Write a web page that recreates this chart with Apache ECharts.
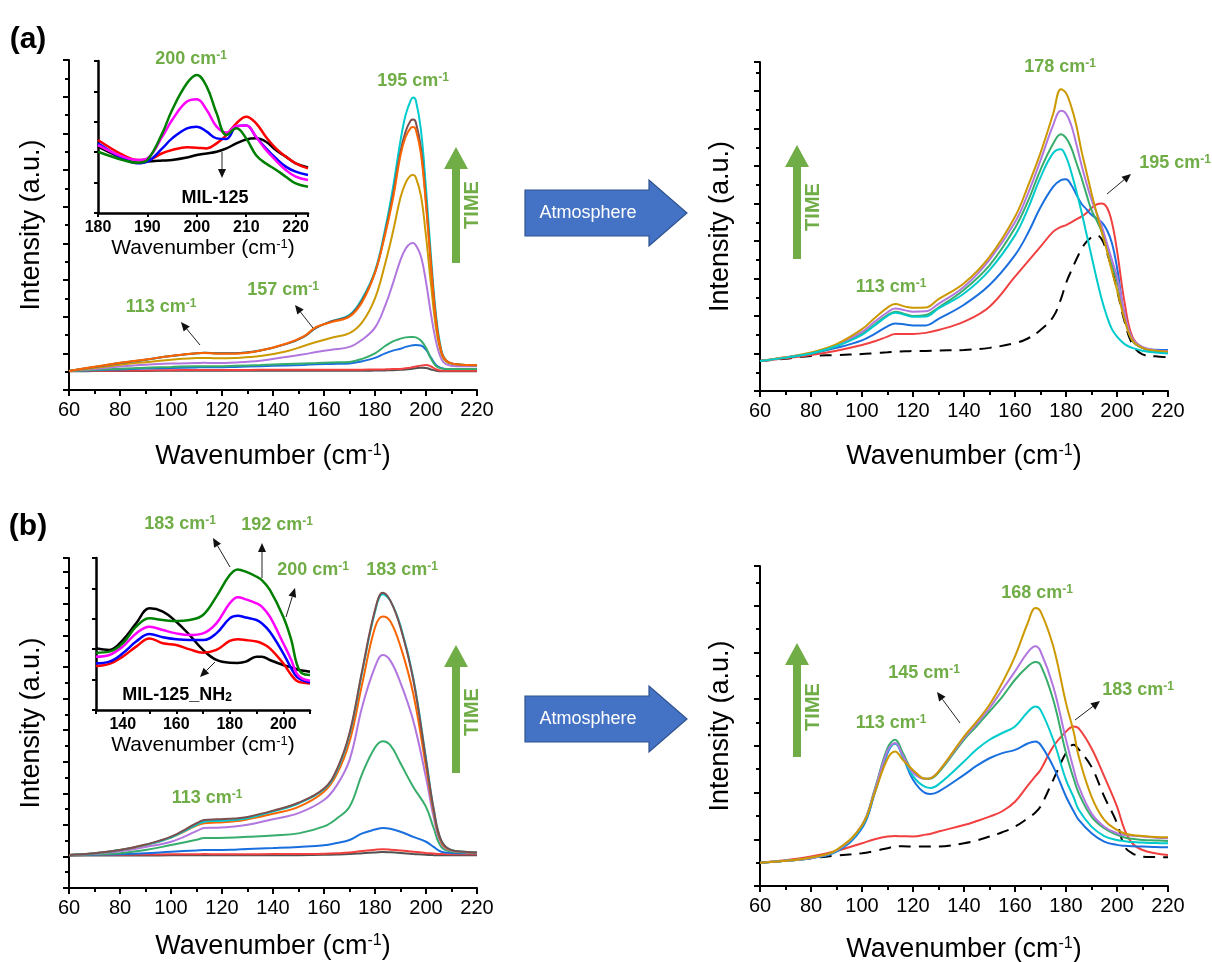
<!DOCTYPE html>
<html><head><meta charset="utf-8">
<script src="https://cdn.jsdelivr.net/npm/echarts@6/dist/echarts.min.js"></script>
<style>html,body{margin:0;padding:0;background:#fff}#c{width:1212px;height:962px}</style>
</head><body><div id="c"></div>
<script>
// ---------- DATA ----------
// (a) main, MIL-125 in time
const X_A_MAIN = [60,70,80,90,100,110,113,118,125,135,145,152,157,163,170,175,180,184,187,190,192,194,195,196,198,200,202,204,206,208,212,220];
const A_gray   = [1.02,1.03,1.04,1.04,1.05,1.05,1.05,1.05,1.05,1.05,1.05,1.05,1.05,1.05,1.05,1.05,1.06,1.07,1.08,1.1,1.12,1.15,1.17,1.19,1.21,1.2,1.12,1.05,1.02,1.02,1.02,1.02];
const A_red    = [1.04,1.05,1.06,1.07,1.08,1.09,1.09,1.09,1.09,1.1,1.1,1.1,1.1,1.1,1.1,1.11,1.12,1.13,1.14,1.15,1.18,1.22,1.25,1.28,1.33,1.36,1.28,1.12,1.05,1.05,1.05,1.05];
const A_blue   = [1.04,1.08,1.12,1.17,1.2,1.23,1.24,1.24,1.26,1.3,1.34,1.37,1.4,1.42,1.45,1.57,1.75,2.0,2.15,2.25,2.35,2.42,2.44,2.45,2.43,2.2,1.75,1.35,1.2,1.15,1.15,1.15];
const A_green  = [1.04,1.1,1.16,1.22,1.26,1.3,1.3,1.3,1.32,1.36,1.42,1.45,1.47,1.5,1.53,1.7,2.0,2.4,2.65,2.8,2.87,2.89,2.89,2.87,2.7,2.3,1.7,1.3,1.18,1.15,1.15,1.15];
const A_purple = [1.04,1.15,1.28,1.38,1.44,1.47,1.48,1.47,1.5,1.6,1.8,1.95,2.07,2.2,2.35,2.75,3.4,4.6,5.8,7.1,7.7,8.0,8.02,7.9,7.3,5.9,4.1,2.6,1.7,1.4,1.3,1.3];
const A_gold   = [1.04,1.2,1.38,1.52,1.65,1.74,1.75,1.73,1.75,1.85,2.1,2.4,2.62,2.85,3.1,3.7,5.0,6.9,8.6,10.5,11.3,11.7,11.73,11.6,10.6,8.4,5.7,3.3,2.0,1.55,1.4,1.35];
const A_cyan   = [1.04,1.25,1.47,1.65,1.85,2.0,2.03,2.0,2.0,2.15,2.5,2.9,3.4,3.75,4.1,5.0,6.5,8.8,11.0,13.6,15.0,15.8,15.95,15.8,14.2,11.0,7.2,4.0,2.2,1.6,1.4,1.35];
const A_brown  = [1.04,1.25,1.47,1.65,1.85,2.0,2.03,2.0,2.0,2.15,2.5,2.9,3.4,3.75,4.05,4.9,6.4,8.6,10.6,13.0,14.1,14.7,14.75,14.6,13.2,10.3,6.8,3.8,2.1,1.6,1.4,1.35];
const A_orange = [1.04,1.27,1.49,1.66,1.86,2.0,2.02,1.98,1.98,2.15,2.52,2.92,3.44,3.7,4.0,4.8,6.4,8.5,10.4,12.8,13.8,14.3,14.35,14.2,12.9,10.1,6.7,3.7,2.1,1.6,1.4,1.35];

// (a) atmosphere
const X_A_ATM = [60,70,80,90,100,105,110,113,117,120,125,130,140,150,160,165,170,175,178,180,182,184,186,188,190,192,194,196,198,200,203,206,210,215,220];
const AA_dash   = [1.6,1.72,1.87,1.92,1.97,2.02,2.07,2.1,2.12,2.13,2.14,2.16,2.19,2.3,2.56,2.8,3.25,3.96,4.9,5.75,6.4,7.0,7.55,7.95,8.2,8.3,8.1,7.4,6.5,5.4,3.7,2.5,1.95,1.85,1.8];
const AA_red    = [1.6,1.75,1.92,2.15,2.45,2.65,2.9,3.04,3.04,3.04,3.1,3.25,3.7,4.5,6.1,6.9,7.7,8.5,8.75,8.85,9.0,9.15,9.3,9.5,9.76,9.95,10.0,9.8,9.0,7.5,4.7,2.9,2.3,2.15,2.1];
const AA_blue   = [1.6,1.78,2.0,2.3,2.7,3.05,3.45,3.6,3.55,3.5,3.5,3.85,4.6,5.65,7.25,8.4,9.8,10.9,11.25,11.3,11.0,10.5,10.0,9.7,9.4,9.2,9.0,8.6,7.9,6.6,3.96,2.7,2.3,2.2,2.19];
const AA_green  = [1.6,1.78,2.0,2.4,3.05,3.55,4.05,4.23,4.1,4.0,4.05,4.45,5.4,6.7,8.7,10.1,11.8,13.2,13.7,13.5,13.0,12.2,11.4,10.5,9.65,9.1,8.5,7.6,6.7,5.9,3.96,2.7,2.3,2.15,2.13];
const AA_purple = [1.6,1.8,2.03,2.45,3.15,3.7,4.2,4.4,4.3,4.23,4.25,4.65,5.56,7.0,9.0,10.5,12.3,14.2,14.95,14.8,14.2,13.2,12.1,11.1,10.2,9.5,8.8,7.9,7.0,6.1,4.15,2.8,2.35,2.18,2.13];
const AA_gold   = [1.6,1.8,2.05,2.5,3.3,3.9,4.45,4.64,4.5,4.44,4.45,4.9,5.75,7.16,9.3,10.9,12.7,14.8,16.1,15.9,15.2,14.2,12.85,11.7,10.55,9.5,8.5,7.5,6.4,5.4,3.8,2.7,2.3,2.15,2.1];
const AA_cyan   = [1.6,1.78,2.0,2.4,3.0,3.5,4.0,4.18,4.05,3.96,3.97,4.4,5.2,6.45,8.3,9.7,11.4,12.7,12.9,12.5,11.7,10.7,9.6,8.4,7.2,6.0,4.9,4.0,3.3,2.9,2.5,2.3,2.15,2.05,2.0];

// (b) main, MIL-125_NH2 in time
const X_B_MAIN = [60,70,80,90,100,110,113,118,125,130,140,150,160,165,170,175,180,183,186,190,195,200,203,206,210,215,220];
const B_gray   = [2.05,2.06,2.06,2.06,2.07,2.07,2.07,2.07,2.07,2.07,2.07,2.08,2.1,2.12,2.15,2.2,2.25,2.28,2.26,2.22,2.16,2.1,2.08,2.07,2.07,2.07,2.07];
const B_red    = [2.09,2.1,2.11,2.12,2.13,2.14,2.15,2.14,2.14,2.14,2.15,2.15,2.17,2.2,2.25,2.35,2.42,2.45,2.43,2.38,2.3,2.22,2.18,2.15,2.14,2.14,2.14];
const B_blue   = [2.09,2.11,2.14,2.2,2.3,2.38,2.4,2.4,2.43,2.47,2.53,2.6,2.7,2.85,3.04,3.46,3.7,3.8,3.75,3.56,3.24,2.93,2.6,2.3,2.22,2.2,2.2];
const B_green  = [2.09,2.13,2.2,2.4,2.72,3.05,3.16,3.17,3.2,3.24,3.33,3.46,3.9,4.4,5.14,7.25,8.9,9.3,9.05,7.9,6.4,5.14,3.8,2.6,2.3,2.25,2.22];
const B_purple = [2.09,2.17,2.33,2.6,2.93,3.6,3.8,3.82,3.9,4.0,4.35,4.74,5.57,6.5,8.1,11.5,14.0,14.75,14.4,13.0,10.6,7.0,4.5,2.8,2.35,2.26,2.23];
const B_orange = [2.09,2.2,2.4,2.72,3.2,3.95,4.1,4.15,4.22,4.35,4.7,5.14,6.1,7.2,9.26,12.95,16.5,17.2,16.9,15.3,12.3,7.67,4.8,2.9,2.38,2.28,2.24];
const B_cyan   = [2.09,2.2,2.4,2.73,3.2,4.0,4.2,4.25,4.3,4.42,4.85,5.35,6.25,7.4,9.7,13.7,17.5,18.6,18.2,16.6,13.3,8.2,5.0,3.0,2.4,2.3,2.25];
const B_brown  = [2.09,2.2,2.4,2.75,3.25,4.1,4.3,4.35,4.4,4.5,4.9,5.4,6.3,7.5,9.8,13.8,17.6,18.7,18.2,16.5,13.2,8.1,5.0,3.0,2.4,2.3,2.25];

// (b) atmosphere
const X_B_ATM = [60,70,80,90,100,105,110,113,116,120,125,127,130,140,145,150,155,160,165,168,170,175,180,183,185,190,195,200,203,206,210,215,220];
const BA_dash   = [1.0,1.08,1.19,1.3,1.4,1.5,1.62,1.69,1.7,1.69,1.69,1.69,1.69,1.83,1.95,2.12,2.3,2.54,2.9,3.15,3.4,4.545,5.69,6.05,5.85,5.1,3.83,2.69,1.69,1.4,1.26,1.24,1.23];
const BA_red    = [1.0,1.1,1.26,1.5,1.83,2.0,2.12,2.14,2.13,2.12,2.2,2.24,2.33,2.61,2.78,2.97,3.2,3.61,4.3,4.7,4.97,5.97,6.61,6.83,6.75,5.9,4.69,3.4,2.4,1.83,1.54,1.4,1.33];
const BA_blue   = [1.0,1.08,1.19,1.47,2.47,3.97,5.69,6.1,5.54,4.545,3.97,3.94,4.04,4.76,5.15,5.47,5.69,5.83,6.1,6.19,6.05,5.11,3.83,3.2,2.83,2.26,1.9,1.76,1.72,1.7,1.69,1.67,1.66];
const BA_cyan   = [1.0,1.08,1.2,1.5,2.55,4.05,5.75,6.1,5.55,4.7,4.23,4.2,4.35,5.33,5.85,6.26,6.55,6.83,7.45,7.69,7.54,6.26,4.545,3.8,3.26,2.54,2.14,1.97,1.92,1.88,1.86,1.84,1.83];
const BA_green  = [1.0,1.08,1.2,1.52,2.6,4.15,5.9,6.26,5.7,4.9,4.59,4.6,4.85,6.26,6.85,7.47,8.1,8.83,9.4,9.59,9.47,7.97,5.69,4.6,3.97,2.97,2.47,2.19,2.08,2.02,1.97,1.95,1.93];
const BA_purple = [1.0,1.08,1.2,1.52,2.6,4.1,5.8,6.12,5.6,4.85,4.59,4.62,4.9,6.33,6.95,7.61,8.4,9.19,10.0,10.26,10.05,8.54,6.26,5.0,4.26,3.11,2.54,2.26,2.18,2.15,2.12,2.07,2.04];
const BA_gold   = [1.0,1.08,1.22,1.55,2.6,4.0,5.45,5.76,5.4,4.97,4.59,4.62,4.9,6.4,7.05,7.76,8.7,9.83,11.26,11.9,11.76,10.26,7.83,6.6,5.54,3.83,2.83,2.4,2.25,2.18,2.14,2.1,2.09];

// inset (a) MIL-125
const X_A_IN = [180,185,188,190,193,195,198,200,202,204,206,208,210,212,214,216,218,220,222.5];
const AI_green   = [4.03,3.49,3.3,3.49,5.24,6.78,8.53,9.08,8.31,6.56,5.13,5.57,4.9,3.8,3.25,2.85,2.39,1.95,1.73];
const AI_magenta = [4.47,3.71,3.49,3.6,5.02,6.12,7.33,7.48,6.78,5.68,5.29,5.72,5.75,5.0,4.15,3.45,2.83,2.39,2.17];
const AI_blue    = [4.58,3.6,3.27,3.38,4.25,4.91,5.57,5.68,5.35,4.91,4.87,5.68,5.75,5.0,4.25,3.6,3.05,2.72,2.5];
const AI_red     = [4.8,3.82,3.49,3.49,3.93,4.14,4.32,4.3,4.25,4.58,5.13,5.9,6.34,5.9,5.0,4.25,3.71,3.27,2.94];
const AI_black   = [4.36,3.6,3.3,3.38,3.45,3.49,3.65,3.82,3.92,4.03,4.25,4.58,4.84,4.91,4.69,4.14,3.71,3.27,3.0];

// inset (b) MIL-125_NH2
const X_B_IN = [130,135,140,145,150,155,160,165,170,175,180,183,186,190,192,195,200,203,205,207,210];
const BI_black   = [4.06,3.95,4.6,5.7,6.69,6.47,5.81,4.93,3.95,3.29,3.11,3.1,3.18,3.51,3.51,3.29,2.96,2.8,2.68,2.6,2.52];
const BI_green   = [3.77,3.84,4.39,5.48,6.03,5.92,5.85,5.92,6.25,7.46,8.88,9.25,9.1,8.77,8.55,7.9,6.14,4.61,3.07,2.41,2.3];
const BI_magenta = [3.51,3.62,4.17,5.04,5.48,5.26,5.04,4.93,5.04,5.7,7.02,7.41,7.28,7.02,6.8,6.14,4.39,3.29,2.41,2.08,1.93];
const BI_blue    = [3.07,3.18,3.73,4.5,5.0,4.78,4.65,4.6,4.6,5.04,6.03,6.2,6.09,5.92,5.7,5.15,3.73,2.74,2.19,1.97,1.8];
const BI_red     = [2.89,3.03,3.51,4.17,4.71,4.39,4.28,3.99,3.77,3.95,4.54,4.65,4.6,4.5,4.39,4.06,3.07,2.3,1.93,1.8,1.75];

const MAIN_TICKS = [60,80,100,120,140,160,180,200,220];

// ---------- STYLE / BUILD ----------
const FONT = '"Liberation Sans", Arial, Helvetica, sans-serif';
const GREEN = '#70AD47';
const C = {gray:'#515151', red:'#F14040', blue:'#1A6FDF', green:'#37AD6B', purple:'#B177DE',
           gold:'#CC9900', cyan:'#00CBCC', brown:'#7D4E4E', orange:'#FB6501'};
const CI = {green:'#008000', magenta:'#FF00FF', blue:'#0000FF', red:'#FF0000', black:'#000000'};

const wnName = (fs, ss) => ({
  name: '{n|Wavenumber (cm}{s|-1}{n|)}',
  nameTextStyle: { rich: {
    n: {fontSize: fs, fontFamily: FONT, color: '#000'},
    s: {fontSize: ss, fontFamily: FONT, color: '#000', verticalAlign: 'top'} } }
});

function mainX(g, gap) {
  return Object.assign({
    type: 'value', gridIndex: g, min: 60, max: 220, interval: 20,
    axisLine: {show: true, onZero: false, lineStyle: {color: '#000', width: 2}},
    axisTick: {show: true, length: 6, lineStyle: {color: '#000', width: 2}},
    minorTick: {show: true, splitNumber: 2, length: 4, lineStyle: {color: '#000', width: 2}},
    axisLabel: {fontSize: 20, color: '#000', fontFamily: FONT, margin: 10,
      formatter: v => MAIN_TICKS.includes(v) ? String(v) : ''},
    splitLine: {show: false}, minorSplitLine: {show: false},
    nameLocation: 'middle', nameGap: gap
  }, wnName(27, 16));
}
function mainY(g, max, gap) {
  return {
    type: 'value', gridIndex: g, min: 0, max: max, interval: 2,
    axisLine: {show: true, onZero: false, lineStyle: {color: '#000', width: 2}},
    axisTick: {show: true, length: 6, lineStyle: {color: '#000', width: 2}},
    minorTick: {show: true, splitNumber: 2, length: 4, lineStyle: {color: '#000', width: 2}},
    axisLabel: {show: false}, splitLine: {show: false}, minorSplitLine: {show: false},
    name: 'Intensity (a.u.)', nameLocation: 'middle', nameGap: gap,
    nameTextStyle: {fontSize: 27, fontFamily: FONT, color: '#000'}
  };
}
function insetX(g, min, max, step, showFn) {
  return Object.assign({
    type: 'value', gridIndex: g, min: min, max: max, interval: step,
    axisLine: {show: true, onZero: false, lineStyle: {color: '#000', width: 2.5}},
    axisTick: {show: true, length: 4, lineStyle: {color: '#000', width: 2}},
    axisLabel: {fontSize: 16, fontWeight: 'bold', color: '#000', fontFamily: FONT, margin: 7,
      formatter: v => showFn(v) ? String(v) : ''},
    splitLine: {show: false},
    nameLocation: 'middle', nameGap: 25
  }, wnName(21, 13));
}
function insetY(g) {
  return {
    type: 'value', gridIndex: g, min: 0, max: 10, interval: 2,
    axisLine: {show: true, onZero: false, lineStyle: {color: '#000', width: 2.5}},
    axisTick: {show: true, length: 4, lineStyle: {color: '#000', width: 2}},
    axisLabel: {show: false}, splitLine: {show: false}
  };
}
function ser(idx, xs, ys, color, w, extra) {
  return Object.assign({
    type: 'line', xAxisIndex: idx, yAxisIndex: idx,
    data: xs.map((x, i) => [x, ys[i]]),
    smooth: 0.4, showSymbol: false, symbol: 'none', silent: true,
    lineStyle: {color: color, width: w}, itemStyle: {color: color},
    z: idx >= 4 ? 5 : 2
  }, extra || {});
}

// annotation helpers
function glabel(txt, x, y, fs) {
  fs = fs || 18;
  return {type: 'text', x: x, y: y, silent: true, z: 20,
    style: {text: '{a|' + txt + '}{b|-1}', align: 'center', verticalAlign: 'middle',
      rich: {a: {fontSize: fs, fontWeight: 'bold', fontFamily: FONT, fill: GREEN},
             b: {fontSize: Math.round(fs * 0.65), fontWeight: 'bold', fontFamily: FONT, fill: GREEN, verticalAlign: 'top'}}}};
}
function blackArrow(x1, y1, x2, y2) {
  const dx = x2 - x1, dy = y2 - y1, L = Math.hypot(dx, dy), ux = dx / L, uy = dy / L;
  const hl = 9, hw = 4;
  const bx = x2 - ux * hl, by = y2 - uy * hl;
  return [
    {type: 'line', silent: true, z: 20, shape: {x1: x1, y1: y1, x2: bx, y2: by}, style: {stroke: '#222', lineWidth: 1}},
    {type: 'polygon', silent: true, z: 20, shape: {points: [[x2, y2], [bx - uy * hw, by + ux * hw], [bx + uy * hw, by - ux * hw]]}, style: {fill: '#111'}}
  ];
}
function timeArrow(cx, top, bottom, tx, ty) {
  return [
    {type: 'polygon', silent: true, z: 20, shape: {points: [[cx, top], [cx + 12, top + 22], [cx + 4, top + 22], [cx + 4, bottom], [cx - 4, bottom], [cx - 4, top + 22], [cx - 12, top + 22]]}, style: {fill: GREEN}},
    {type: 'text', silent: true, z: 20, x: tx, y: ty, rotation: Math.PI / 2,
      style: {text: 'TIME', fontSize: 20, fontWeight: 'bold', fontFamily: FONT, fill: GREEN, align: 'center', verticalAlign: 'middle'}}
  ];
}
function atmArrow(cy) {
  return [
    {type: 'polygon', silent: true, z: 20, shape: {points: [[525, cy - 23], [649, cy - 23], [649, cy - 33], [687, cy], [649, cy + 33], [649, cy + 23], [525, cy + 23]]},
      style: {fill: '#4472C4', stroke: '#2F528F', lineWidth: 1.2}},
    {type: 'text', silent: true, z: 21, x: 588, y: cy,
      style: {text: 'Atmosphere', fontSize: 18, fontFamily: FONT, fill: '#fff', align: 'center', verticalAlign: 'middle'}}
  ];
}
function plainText(txt, x, y, fs, bold) {
  return {type: 'text', silent: true, z: 20, x: x, y: y,
    style: {text: txt, fontSize: fs, fontWeight: bold ? 'bold' : 'normal', fontFamily: FONT, fill: '#000', align: 'center', verticalAlign: 'middle'}};
}

const grids = [
  {left: 69, top: 60, width: 408, height: 330},
  {left: 760, top: 62, width: 408, height: 329},
  {left: 69, top: 558, width: 408, height: 330},
  {left: 760, top: 566, width: 408, height: 320},
  {left: 98, top: 61, width: 210, height: 152},
  {left: 96, top: 558, width: 214, height: 152}
].map(g => Object.assign({containLabel: false, outerBoundsMode: 'none', show: false}, g));

const xAxes = [
  mainX(0, 53), mainX(1, 52), mainX(2, 45), mainX(3, 50),
  insetX(4, 180, 222.5, 10, v => v % 10 === 0),
  insetX(5, 130, 210, 10, v => v % 20 === 0 && v >= 140 && v <= 200)
];
const yAxes = [
  mainY(0, 18, 24), mainY(1, 17.55, 26), mainY(2, 20.9, 24), mainY(3, 13.7, 26),
  insetY(4), insetY(5)
];

const DASH = {lineStyle: {color: '#000', width: 2, type: [12, 8]}};
const series = [
  ser(0, X_A_MAIN, A_gray, C.gray, 2), ser(0, X_A_MAIN, A_red, C.red, 2),
  ser(0, X_A_MAIN, A_blue, C.blue, 2), ser(0, X_A_MAIN, A_green, C.green, 2),
  ser(0, X_A_MAIN, A_purple, C.purple, 2), ser(0, X_A_MAIN, A_gold, C.gold, 2),
  ser(0, X_A_MAIN, A_cyan, C.cyan, 2), ser(0, X_A_MAIN, A_brown, C.brown, 2),
  ser(0, X_A_MAIN, A_orange, C.orange, 2),

  ser(1, X_A_ATM, AA_dash, '#000', 2, DASH),
  ser(1, X_A_ATM, AA_red, C.red, 2), ser(1, X_A_ATM, AA_blue, C.blue, 2),
  ser(1, X_A_ATM, AA_green, C.green, 2), ser(1, X_A_ATM, AA_purple, C.purple, 2),
  ser(1, X_A_ATM, AA_gold, C.gold, 2), ser(1, X_A_ATM, AA_cyan, C.cyan, 2),

  ser(2, X_B_MAIN, B_gray, C.gray, 2), ser(2, X_B_MAIN, B_red, C.red, 2),
  ser(2, X_B_MAIN, B_blue, C.blue, 2), ser(2, X_B_MAIN, B_green, C.green, 2),
  ser(2, X_B_MAIN, B_purple, C.purple, 2), ser(2, X_B_MAIN, B_orange, C.orange, 2),
  ser(2, X_B_MAIN, B_cyan, C.cyan, 2), ser(2, X_B_MAIN, B_brown, C.brown, 2),

  ser(3, X_B_ATM, BA_dash, '#000', 2, DASH),
  ser(3, X_B_ATM, BA_red, C.red, 2), ser(3, X_B_ATM, BA_blue, C.blue, 2),
  ser(3, X_B_ATM, BA_cyan, C.cyan, 2), ser(3, X_B_ATM, BA_green, C.green, 2),
  ser(3, X_B_ATM, BA_purple, C.purple, 2), ser(3, X_B_ATM, BA_gold, C.gold, 2),

  ser(4, X_A_IN, AI_black, CI.black, 2.5), ser(4, X_A_IN, AI_red, CI.red, 2.5),
  ser(4, X_A_IN, AI_blue, CI.blue, 2.5), ser(4, X_A_IN, AI_magenta, CI.magenta, 2.5),
  ser(4, X_A_IN, AI_green, CI.green, 2.5),

  ser(5, X_B_IN, BI_black, CI.black, 2.5), ser(5, X_B_IN, BI_red, CI.red, 2.5),
  ser(5, X_B_IN, BI_blue, CI.blue, 2.5), ser(5, X_B_IN, BI_magenta, CI.magenta, 2.5),
  ser(5, X_B_IN, BI_green, CI.green, 2.5)
];

const graphic = [].concat(
  [plainText('(a)', 28, 40, 30, true), plainText('(b)', 28, 527, 30, true)],
  // panel (a)
  [glabel('200 cm', 191, 59), glabel('195 cm', 413, 81), glabel('113 cm', 161, 307), glabel('157 cm', 283, 290)],
  blackArrow(222, 152, 222, 178), blackArrow(200, 345, 181, 322), blackArrow(313, 328, 295, 305),
  [plainText('MIL-125', 215, 198, 18, true)],
  timeArrow(456, 147, 263, 472, 205),
  atmArrow(213),
  [glabel('178 cm', 1060, 67), glabel('113 cm', 891, 287), glabel('195 cm', 1175, 163)],
  blackArrow(1107, 194, 1131, 174),
  timeArrow(797, 145, 259, 813, 207),
  // panel (b)
  [glabel('183 cm', 180, 524), glabel('192 cm', 277, 525), glabel('200 cm', 313, 570), glabel('183 cm', 402, 570), glabel('113 cm', 207, 798)],
  blackArrow(230, 567, 213, 538), blackArrow(262, 578, 262, 543), blackArrow(286, 617, 295, 588), blackArrow(215, 662, 200, 677),
  [{type: 'text', silent: true, z: 20, x: 177, y: 695,
    style: {text: '{a|MIL-125_NH}{b|2}', align: 'center', verticalAlign: 'middle',
      rich: {a: {fontSize: 18, fontWeight: 'bold', fontFamily: FONT, fill: '#000'},
             b: {fontSize: 12, fontWeight: 'bold', fontFamily: FONT, fill: '#000', verticalAlign: 'bottom'}}}}],
  timeArrow(456, 645, 773, 472, 712),
  atmArrow(719),
  [glabel('168 cm', 1037, 593), glabel('145 cm', 924, 673), glabel('113 cm', 891, 723), glabel('183 cm', 1138, 690)],
  blackArrow(960, 723, 937, 692), blackArrow(1075, 720, 1100, 701),
  timeArrow(797, 643, 757, 813, 707)
);

const chart = echarts.init(document.getElementById('c'), null, {renderer: 'canvas'});
chart.setOption({
  animation: false,
  backgroundColor: '#fff',
  grid: grids, xAxis: xAxes, yAxis: yAxes, series: series, graphic: graphic
});
</script></body></html>
